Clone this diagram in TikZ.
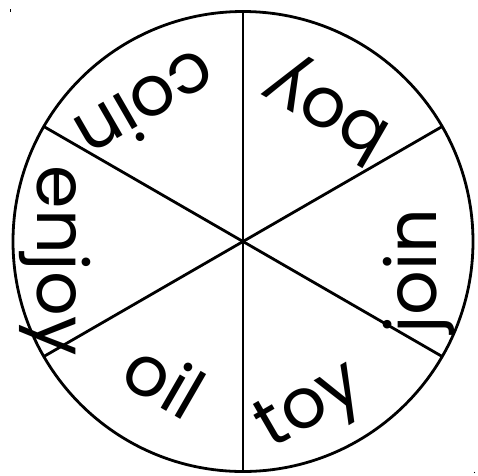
\documentclass[tikz,border=0pt]{standalone}
\usepackage{fontspec}
\setmainfont{Poppins}
\usepackage{tikz}
\usepackage{xcolor}

\begin{document}
\begin{tikzpicture}[x=1pt,y=1pt,line width=2.8pt,every node/.style={font=\fontsize{70}{76}\selectfont,inner sep=0pt}]
\useasboundingbox (-243,-233.5) rectangle (235,241.5);
\coordinate (hub) at (0,0);
\draw (hub) circle (230);
\draw (hub) -- (90:230);
\draw (hub) -- (30:230);
\draw (hub) -- (-30:230);
\draw (hub) -- (-90:230);
\draw (hub) -- (210:230);
\draw (hub) -- (150:230);
\node[rotate=150] (boy) at (57.5:158) {boy};
\node[rotate=90] (join) at (-9.5:178.5) {join};
\node[rotate=30] (toy) at (-67.6:181) {toy};
\node[rotate=-30] (oil) at (240.5:159) {oil};
\node[rotate=-90] (enjoy) at (185.8:188.5) {enjoy};
\node[rotate=210] (coin) at (125.4:165) {coin};
% specks
\draw[line width=1pt] (-232,229.5) -- (-232,232.5);
\fill (231.5,-231) circle (0.7);
\end{tikzpicture}
\end{document}
